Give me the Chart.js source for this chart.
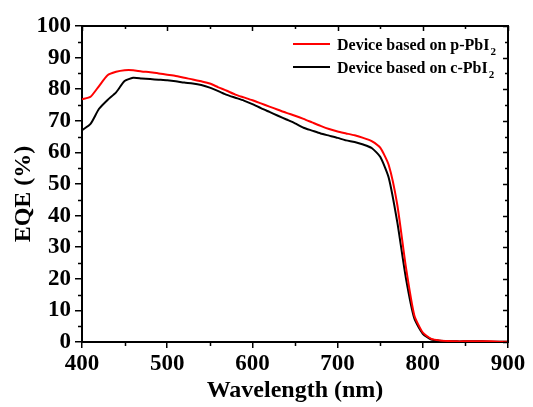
<!DOCTYPE html>
<html>
<head>
<meta charset="utf-8">
<script src="https://cdn.jsdelivr.net/npm/chart.js@4"></script>
<style>
  html, body { margin: 0; padding: 0; background: #fff; }
  #wrap { width: 533px; height: 407px; position: relative; }
</style>
</head>
<body>
<div id="wrap"><canvas id="eqe"></canvas></div>
<script>
const wavelength = [400, 410, 420, 430, 440, 450, 460, 470, 480, 490, 500, 510, 520, 530, 540, 550, 560, 570, 580, 590,
    600, 610, 620, 630, 640, 650, 660, 670, 680, 690, 700, 710, 720, 730, 740, 750, 760, 770, 780, 790,
    800, 810, 820, 830, 840, 850, 860, 870, 880, 890, 900];

const eqeP = [76.8, 77.6, 81.0, 84.4, 85.5, 86.0, 86.0, 85.6, 85.4, 85.0, 84.6, 84.2, 83.6, 83.1, 82.5, 81.8, 80.6, 79.5, 78.3, 77.4,
    76.5, 75.5, 74.5, 73.5, 72.5, 71.6, 70.6, 69.5, 68.4, 67.4, 66.6, 66.0, 65.4, 64.6, 63.6, 61.5, 56.0, 43.5, 24.0, 8.5,
    3.0, 1.0, 0.5, 0.3, 0.2, 0.2, 0.2, 0.2, 0.2, 0.1, 0.1];

const eqeC = [67.0, 69.0, 73.8, 76.6, 79.0, 82.6, 83.6, 83.4, 83.2, 83.0, 82.8, 82.5, 82.1, 81.8, 81.3, 80.5, 79.4, 78.2, 77.3, 76.4,
    75.3, 74.0, 72.8, 71.6, 70.4, 69.2, 67.8, 66.9, 66.0, 65.3, 64.6, 63.8, 63.3, 62.5, 61.4, 58.6, 52.0, 38.0, 20.5, 7.5,
    2.6, 0.8, 0.4, 0.3, 0.2, 0.2, 0.2, 0.2, 0.1, 0.1, 0.1];

const xTicks = [400, 500, 600, 700, 800, 900];
const xMinor = [450, 550, 650, 750, 850];
const yMinor = [5, 15, 25, 35, 45, 55, 65, 75, 85, 95];
const yTitle = 'EQE (%)';

const serif = '"Liberation Serif", "Times New Roman", serif';

const toPts = (ys) => wavelength.map((x, i) => ({ x: x, y: ys[i] }));

// frame on top/right, minor ticks, inward ticks, y title, legend with subscript
const framePlugin = {
    id: 'frame',
    afterDraw(chart) {
        const c = chart.ctx;
        const a = chart.chartArea;
        const sx = chart.scales.x, sy = chart.scales.y;
        c.save();
        c.strokeStyle = '#000';
        c.lineWidth = 2;
        c.beginPath();
        c.moveTo(a.left - 1, a.top);
        c.lineTo(a.right, a.top);
        c.lineTo(a.right, a.bottom + 1);
        c.stroke();

        c.lineWidth = 1.5;
        c.beginPath();
        xTicks.concat(xMinor).forEach(v => {
            const px = Math.round(sx.getPixelForValue(v)) + 0.5;
            const len = xTicks.includes(v) ? 5 : 3;
            if (xMinor.includes(v)) {
                c.moveTo(px, a.bottom);
                c.lineTo(px, a.bottom + 4);
            }
            c.moveTo(px, a.top);
            c.lineTo(px, a.top + len);
        });
        for (let v = 0; v <= 100; v += 5) {
            const py = Math.round(sy.getPixelForValue(v)) + 0.5;
            const minor = yMinor.includes(v);
            if (minor) {
                c.moveTo(a.left, py);
                c.lineTo(a.left - 4, py);
            }
            c.moveTo(a.right, py);
            c.lineTo(a.right - (minor ? 3 : 5), py);
        }
        c.stroke();

        // y axis title
        c.save();
        c.translate(24, 194);
        c.rotate(-Math.PI / 2);
        c.fillStyle = '#000';
        c.font = 'bold 24px ' + serif;
        c.textAlign = 'center';
        c.textBaseline = 'middle';
        c.fillText(yTitle, 0, 0);
        c.restore();

        // legend
        const rows = chart.data.datasets;
        c.textBaseline = 'alphabetic';
        rows.forEach((ds, i) => {
            const ly = 44 + i * 23;
            c.strokeStyle = ds.borderColor;
            c.lineWidth = 2;
            c.beginPath();
            c.moveTo(293, ly);
            c.lineTo(330, ly);
            c.stroke();
            c.fillStyle = '#000';
            c.font = 'bold 16px ' + serif;
            c.fillText(ds.label, 337, ly + 6);
            const w = c.measureText(ds.label).width;
            c.font = 'bold 11px ' + serif;
            c.fillText(ds.sub, 337 + w + 1, ly + 11);
        });
        c.restore();
    }
};

new Chart(document.getElementById('eqe'), {
    type: 'line',
    data: {
        datasets: [
            {
                label: 'Device based on p-PbI',
                sub: '2',
                data: toPts(eqeP),
                borderColor: '#ff0000',
                borderWidth: 2,
                pointRadius: 0,
                tension: 0.2
            },
            {
                label: 'Device based on c-PbI',
                sub: '2',
                data: toPts(eqeC),
                borderColor: '#000000',
                borderWidth: 2,
                pointRadius: 0,
                tension: 0.2
            }
        ]
    },
    options: {
        responsive: true,
        maintainAspectRatio: false,
        animation: false,
        layout: { padding: { top: 26, right: 25, left: 0, bottom: 0 } },
        plugins: {
            legend: { display: false },
            tooltip: { enabled: false }
        },
        scales: {
            x: {
                type: 'linear',
                min: 400,
                max: 900,
                afterFit: s => { s.height = 65; },
                afterBuildTicks: s => { s.ticks = xTicks.map(v => ({ value: v })); },
                ticks: {
                    color: '#000',
                    padding: 2,
                    font: { family: serif, size: 23, weight: 'bold' }
                },
                grid: { drawOnChartArea: false, color: '#000', lineWidth: 1.5, tickLength: 6 },
                border: { color: '#000', width: 2 },
                title: {
                    display: true,
                    text: 'Wavelength (nm)',
                    color: '#000',
                    padding: { top: 0, bottom: 2 },
                    font: { family: serif, size: 24, weight: 'bold' }
                }
            },
            y: {
                min: 0,
                max: 100,
                afterFit: s => { s.width = 82; },
                ticks: {
                    stepSize: 10,
                    color: '#000',
                    padding: 4,
                    font: { family: serif, size: 23, weight: 'bold' }
                },
                grid: { drawOnChartArea: false, color: '#000', lineWidth: 1.5, tickLength: 7 },
                border: { color: '#000', width: 2 }
            }
        }
    },
    plugins: [framePlugin]
});
</script>
</body>
</html>
